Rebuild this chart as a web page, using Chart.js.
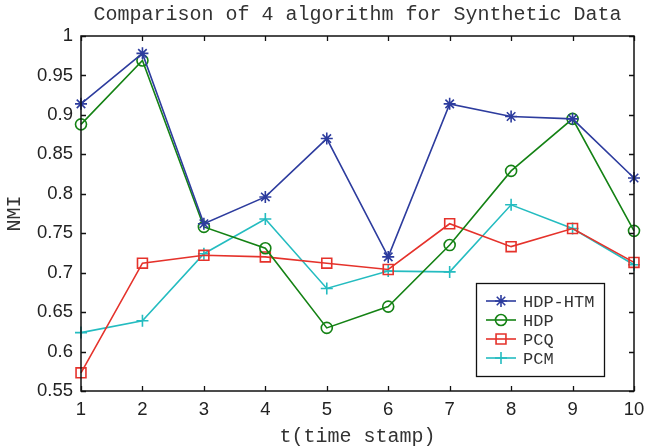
<!DOCTYPE html>
<html>
<head>
<meta charset="utf-8">
<script src="https://cdn.jsdelivr.net/npm/chart.js@4/dist/chart.umd.min.js"></script>
<style>
  html, body { margin: 0; padding: 0; background: #fff; }
  #wrap { width: 645px; height: 448px; }
</style>
</head>
<body>
<div id="wrap"><canvas id="c" width="645" height="448"></canvas></div>
<script>
// Time stamps and NMI scores per algorithm
const timeStamps = [1, 2, 3, 4, 5, 6, 7, 8, 9, 10];
const hdpHtm = [0.914, 0.978, 0.762, 0.796, 0.870, 0.720, 0.914, 0.898, 0.895, 0.820];
const hdp    = [0.888, 0.969, 0.758, 0.731, 0.630, 0.657, 0.735, 0.829, 0.895, 0.753];
const pcq    = [0.573, 0.712, 0.722, 0.720, 0.712, 0.704, 0.762, 0.733, 0.756, 0.713];
const pcm    = [0.624, 0.639, 0.724, 0.768, 0.680, 0.702, 0.701, 0.786, 0.756, 0.710];
const yTicks = [0.55, 0.6, 0.65, 0.7, 0.75, 0.8, 0.85, 0.9, 0.95, 1];
const yTickLabels = ['0.55', '0.6', '0.65', '0.7', '0.75', '0.8', '0.85', '0.9', '0.95', '1'];
const seriesNames = ['HDP-HTM', 'HDP', 'PCQ', 'PCM'];

const MONO = '"Liberation Mono", "DejaVu Sans Mono", monospace';
const SANS = '"Liberation Sans", Arial, sans-serif';

function series(label, data, color, style, radius) {
  return {
    label, data,
    borderColor: color,
    backgroundColor: 'rgba(0,0,0,0)',
    pointBorderColor: color,
    pointBackgroundColor: 'rgba(0,0,0,0)',
    pointStyle: style,
    pointRadius: radius,
    pointHoverRadius: radius,
    pointBorderWidth: 1.6,
    borderWidth: 1.6,
    tension: 0,
    clip: false
  };
}

// Frame with inward ticks on all four sides, titles and boxed legend
const decorations = {
  id: 'decorations',
  afterDatasetsDraw(chart) {
    const { ctx, chartArea: a, scales } = chart;
    const xs = scales.x, ys = scales.y;
    ctx.save();
    ctx.strokeStyle = '#111';
    ctx.lineWidth = 1.3;
    ctx.beginPath();
    const tl = 5;
    timeStamps.forEach((t, i) => {
      const px = Math.round(xs.getPixelForValue(i)) + 0.5;
      ctx.moveTo(px, a.bottom); ctx.lineTo(px, a.bottom - tl);
      ctx.moveTo(px, a.top); ctx.lineTo(px, a.top + tl);
    });
    yTicks.forEach(v => {
      const py = Math.round(ys.getPixelForValue(v)) + 0.5;
      ctx.moveTo(a.left, py); ctx.lineTo(a.left + tl, py);
      ctx.moveTo(a.right, py); ctx.lineTo(a.right - tl, py);
    });
    ctx.stroke();
    ctx.lineWidth = 1.5;
    ctx.strokeRect(a.left, a.top, a.right - a.left, a.bottom - a.top);

    // Legend box
    const lx = 476, ly = 283, lw = 128, lh = 93;
    ctx.fillStyle = '#fff';
    ctx.fillRect(lx, ly, lw, lh);
    ctx.lineWidth = 1.3;
    ctx.strokeStyle = '#111';
    ctx.strokeRect(lx + 0.5, ly + 0.5, lw, lh);
    ctx.font = '17px ' + MONO;
    ctx.textBaseline = 'middle';
    ctx.textAlign = 'left';
    chart.data.datasets.forEach((ds, i) => {
      const y = ly + 18 + i * 19;
      ctx.strokeStyle = ds.borderColor;
      ctx.lineWidth = ds.borderWidth;
      ctx.beginPath();
      ctx.moveTo(lx + 10, y); ctx.lineTo(lx + 40, y);
      ctx.stroke();
      ctx.fillStyle = 'rgba(0,0,0,0)';
      ctx.lineWidth = ds.pointBorderWidth;
      Chart.helpers.drawPoint(ctx, {
        pointStyle: ds.pointStyle, rotation: 0,
        radius: ds.pointRadius, borderWidth: ds.pointBorderWidth
      }, lx + 25, y);
      ctx.fillStyle = '#333';
      ctx.fillText(ds.label, lx + 47, y + 1);
    });

    // Title and axis titles
    ctx.fillStyle = '#333';
    ctx.textAlign = 'center';
    ctx.textBaseline = 'middle';
    ctx.font = '20px ' + MONO;
    const cx = (a.left + a.right) / 2;
    ctx.fillText('Comparison of 4 algorithm for Synthetic Data', cx, 15);
    ctx.fillText('t(time stamp)', cx, 437);
    ctx.translate(15, (a.top + a.bottom) / 2);
    ctx.rotate(-Math.PI / 2);
    ctx.fillText('NMI', 0, 0);
    ctx.restore();
  }
};

new Chart(document.getElementById('c'), {
  type: 'line',
  data: {
    labels: timeStamps.map(String),
    datasets: [
      series(seriesNames[0], hdpHtm, '#2d3c9e', 'star', 6),
      series(seriesNames[1], hdp, '#148214', 'circle', 5.5),
      series(seriesNames[2], pcq, '#e5322b', 'rect', 7),
      series(seriesNames[3], pcm, '#24bcc0', 'cross', 6)
    ]
  },
  options: {
    responsive: false,
    animation: false,
    events: [],
    layout: { padding: { left: 0, top: 36, right: 11, bottom: 0 } },
    plugins: { legend: { display: false }, title: { display: false }, tooltip: { enabled: false } },
    scales: {
      x: {
        type: 'category',
        offset: false,
        grid: { display: false, drawTicks: false },
        border: { display: false },
        ticks: { padding: 8, color: '#222', font: { family: SANS, size: 18.5 }, maxRotation: 0, autoSkip: false },
        afterFit(s) { s.height = 57; s.paddingLeft = 0; s.paddingRight = 0; }
      },
      y: {
        min: 0.55, max: 1,
        grid: { display: false, drawTicks: false },
        border: { display: false },
        afterBuildTicks(s) { s.ticks = yTicks.map(v => ({ value: v })); },
        ticks: {
          padding: 8, color: '#222', font: { family: SANS, size: 18.5 },
          callback: (v) => { const i = yTicks.findIndex(t => Math.abs(t - v) < 1e-9); return i >= 0 ? yTickLabels[i] : ''; }
        },
        afterFit(s) { s.width = 81; s.paddingTop = 0; s.paddingBottom = 0; }
      }
    }
  },
  plugins: [decorations]
});
</script>
</body>
</html>
